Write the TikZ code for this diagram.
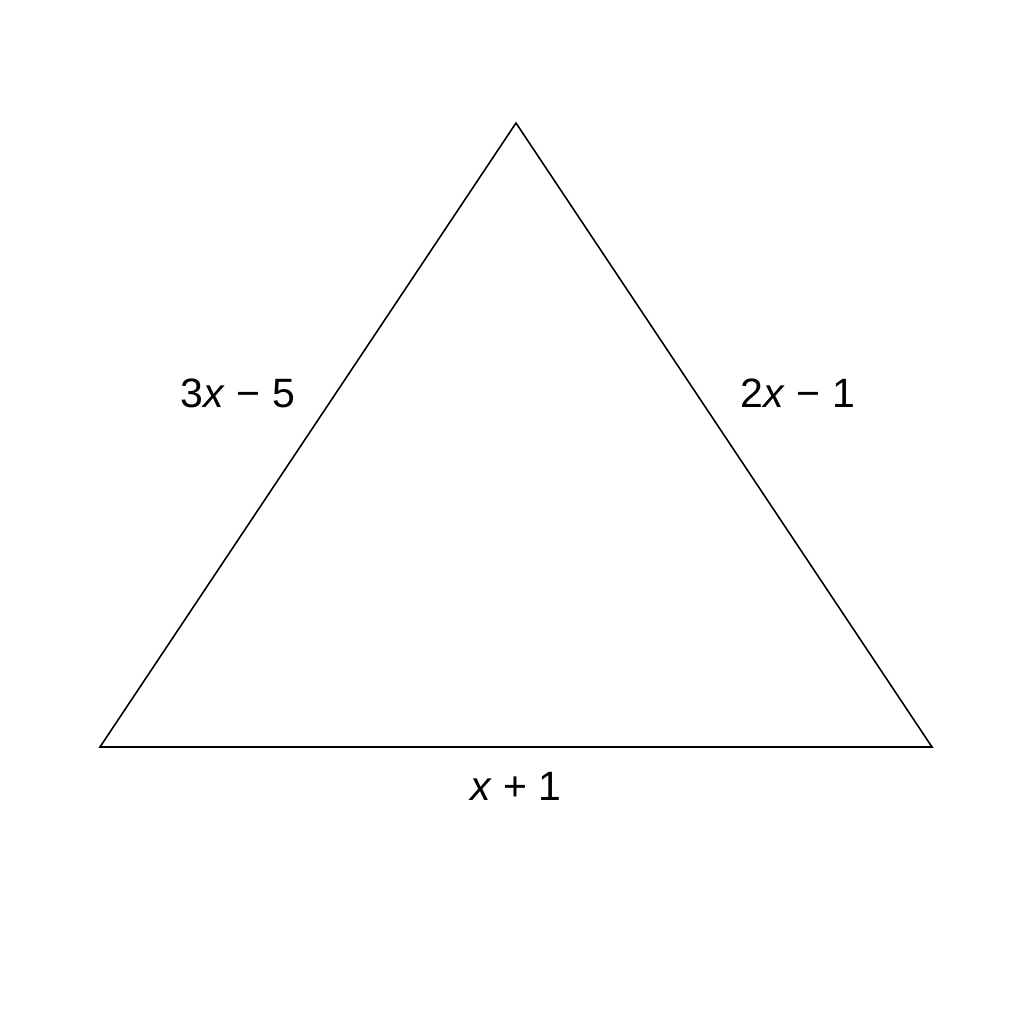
\documentclass[tikz,border=0pt]{standalone}
\usepackage{fontspec}
\setmainfont{Liberation Sans}
\begin{document}
\begin{tikzpicture}[x=1pt,y=-1pt,
  lbl/.style={font=\fontsize{41}{48}\selectfont, inner sep=0pt, anchor=center},
  side/.style={draw=black, line width=1.6pt, line join=miter}]
\useasboundingbox[fill=white] (0,0) rectangle (1024,1024);
\coordinate (A) at (516,123);
\coordinate (B) at (100,747);
\coordinate (C) at (932,747);
\draw[side] (A) -- (B) -- (C) -- cycle;
\node[lbl] (l1) at (238,393) {3\textit{x} − 5};
\node[lbl] (l2) at (798,393) {2\textit{x} − 1};
\node[lbl] (l3) at (516,786) {\textit{x} + 1};
\end{tikzpicture}
\end{document}
